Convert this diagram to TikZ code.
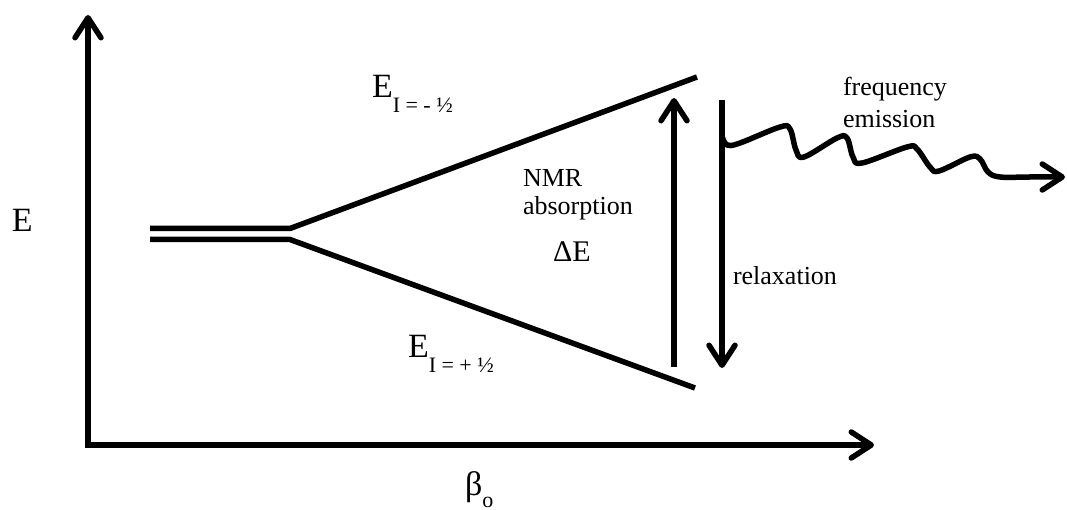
\documentclass[tikz,border=0pt]{standalone}
\usepackage{fontspec}
\setmainfont{Liberation Serif}
\usetikzlibrary{arrows.meta}
\tikzset{
  x=1pt, y=-1pt,
  thick line/.style={line width=5.5pt},
  barb/.style={-{Straight Barb[length=20pt,width=26pt,line cap=round,line join=round]}},
  lbl/.style={anchor=base west, inner sep=0pt, outer sep=0pt},
  big/.style={font=\fontsize{34}{34}\selectfont},
  mid/.style={font=\fontsize{26}{32}\selectfont},
}
\newcommand{\subtxt}[1]{\raisebox{-15pt}{\fontsize{22}{22}\selectfont #1}}
\begin{document}
\begin{tikzpicture}
\useasboundingbox (0,0) rectangle (1067,510);
% axes
\coordinate (origin) at (88,445);
\coordinate (ytip) at (88,15);
\coordinate (xtip) at (874,445);
\draw[thick line, barb] ([yshift=-2.75pt]origin) -- (ytip);
\draw[thick line, barb] ([xshift=-2.75pt]origin) -- (xtip);
% levels
\coordinate (a1) at (150,228.5);
\coordinate (b1) at (290,228.5);
\coordinate (a2) at (150,239.5);
\coordinate (b2) at (290,239.5);
\coordinate (up) at (697,77);
\coordinate (lo) at (695,388);
\draw[thick line] (a1) -- (b1) -- (up);
\draw[thick line] (a2) -- (b2) -- (lo);
% absorption arrow
\coordinate (abs0) at (674,367);
\coordinate (abs1) at (674,98);
\draw[thick line, barb] (abs0) -- (abs1);
% relaxation arrow
\coordinate (rel0) at (722,100);
\coordinate (rel1) at (722,368);
\draw[thick line, barb] (rel0) -- (rel1);
% emission wave
\draw[thick line, barb, line join=round] plot[smooth, tension=0.6] coordinates {
  (722,136) (727,145) (740,143) (780,127) (790,129) (796,150) (804,157)
  (837,138) (847,138) (853,157) (862,163)
  (907,147) (917,149) (930,167) (939,171)
  (970,157) (980,159) (988,172) (1000,177)
  (1030,177) (1065,177)};
% labels
\node[lbl, big] (E) at (12,232) {E};
\node[lbl, big] (Eminus) at (372,98) {E\subtxt{I = - ½}};
\node[lbl, big] (Eplus) at (408,357) {E\subtxt{I = + ½}};
\node[lbl, mid] (nmr) at (523,187) {NMR};
\node[lbl, mid] (absn) at (523,215) {absorption};
\node[lbl, font=\fontsize{30}{30}\selectfont] (dE) at (553,262) {ΔE};
\node[lbl, mid] (freq) at (843,96) {frequency};
\node[lbl, mid] (emis) at (843,128) {emission};
\node[lbl, mid] (relax) at (733,285) {relaxation};
\node[lbl, big] (beta) at (465,495) {β\raisebox{-12pt}{\fontsize{22}{22}\selectfont o}};
\end{tikzpicture}
\end{document}
